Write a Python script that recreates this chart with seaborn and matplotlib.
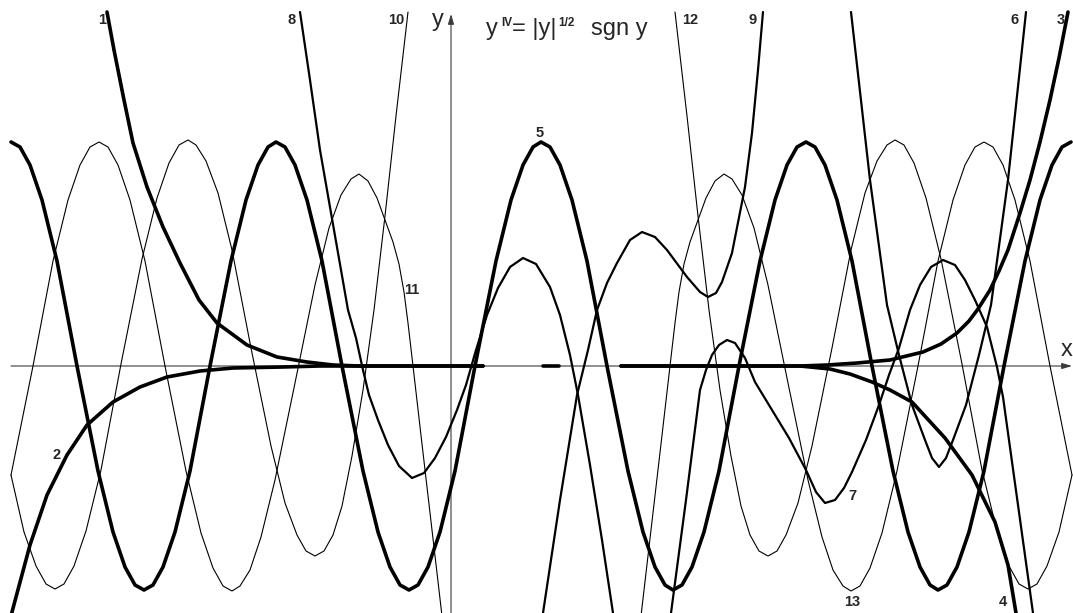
import matplotlib
matplotlib.use("Agg")
import matplotlib.pyplot as plt
import seaborn as sns

# one unit = one pixel of the reference, origin where the axes cross

# thick curves 1-5
c1_x = [-344, -337, -327, -318, -304, -288, -271, -252, -234, -204, -174, -144, -118, -91, 32]
c1_y = [354, 316, 266, 223, 179, 139, 103, 66, 43, 21, 9, 4, 1, 0, 0]

c2_x = [-441, -439, -421, -404, -384, -364, -338, -311, -284, -251, -218, -168, -131, 32]
c2_y = [-254, -246, -179, -129, -89, -59, -36, -21, -11, -5, -2, -1, 0, 0]

c3_x = [170, 349, 376, 406, 439, 472, 490, 506, 518, 527, 539, 548, 557, 569, 579, 589, 599, 608, 617]
c3_y = [0, 0, 1, 3, 6, 14, 22, 33, 45, 57, 76, 95, 116, 153, 186, 224, 266, 308, 354]

c4_x = [170, 349, 379, 399, 421, 439, 461, 494, 521, 544, 557, 565, 567]
c4_y = [0, 0, -3, -8, -16, -24, -36, -72, -109, -156, -199, -247, -264]

c5_x = [-440, -431, -421, -409, -394, -374, -353, -338, -326, -316,
        -307, -298, -288, -276, -261, -241, -220, -205, -193, -183,
        -175, -166, -156, -144, -129, -109, -88, -73, -61, -51,
        -42, -33, -23, -11, 4, 24, 45, 60, 72, 82,
        90, 99, 109, 121, 136, 156, 177, 192, 204, 214,
        222, 231, 241, 253, 268, 288, 309, 324, 336, 346,
        355, 364, 374, 386, 401, 421, 442, 457, 469, 479,
        487, 496, 506, 518, 533, 553, 574, 589, 601, 611, 620]
c5_y = [224, 219, 201, 166, 105, 0, -105, -166, -201, -219,
        -224, -219, -201, -166, -105, 0, 105, 166, 201, 219,
        224, 219, 201, 166, 105, 0, -105, -166, -201, -219,
        -224, -219, -201, -166, -105, 0, 105, 166, 201, 219,
        224, 219, 201, 166, 105, 0, -105, -166, -201, -219,
        -224, -219, -201, -166, -105, 0, 105, 166, 201, 219,
        224, 219, 201, 166, 105, 0, -105, -166, -201, -219,
        -224, -219, -201, -166, -105, 0, 105, 166, 201, 219, 224]

# short thick piece lying on the x axis
z_x = [92, 108]
z_y = [0, 0]

# medium curves 6-9
c6_x = [400, 419, 436, 448, 461, 474, 481, 488, 495, 502, 515, 528, 540, 557, 575]
c6_y = [354, 186, 61, 11, -39, -74, -92, -101, -92, -74, -39, 11, 61, 186, 354]

c7_x = [217, 220, 235, 249, 255, 261, 268, 276, 284, 294, 304, 321, 338, 355, 365, 374, 384, 393,
        401, 415, 428, 438, 448, 459, 469, 480, 492, 504, 514, 524, 536, 546, 552, 567, 582, 585]
c7_y = [-274, -247, -134, -24, -4, 11, 21, 26, 23, 8, -16, -44, -72, -104, -126, -137, -134, -122,
        -106, -74, -39, -9, 18, 56, 81, 99, 106, 101, 86, 66, 39, -1, -31, -139, -247, -274]

c8_x = [-151, -141, -131, -117, -103, -95, -88, -82, -73, -63, -52, -39, -27, -16, -5, 6,
        15, 25, 36, 47, 59, 72, 85, 99, 109, 119, 127, 139, 151, 162, 165]
c8_y = [354, 286, 216, 136, 56, 28, -4, -29, -54, -79, -100, -112, -107, -92, -71, -44,
        -19, 16, 51, 78, 99, 108, 102, 79, 51, 11, -29, -99, -174, -247, -269]

c9_x = [89, 92, 109, 126, 137, 146, 156, 166, 179, 191, 204, 216, 236, 249, 257, 265, 271, 281,
        294, 301, 307, 312]
c9_y = [-269, -247, -134, -29, 16, 56, 83, 103, 126, 134, 129, 116, 89, 74, 69, 73, 84, 113,
        179, 233, 296, 354]

# thin curves 10-13
c10_x = [-440, -427, -415, -405, -396, -387, -377, -365, -350, -330, -309, -294, -282, -272, -263, -255, -245,
         -233, -219, -200, -180, -166, -154, -145, -136, -127, -118, -109, -99, -88, -77, -66, -55, -43]
c10_y = [-109, -166, -200, -218, -223, -218, -200, -165, -104, 2, 107, 168, 203, 221, 226, 221, 205,
         173, 116, 18, -80, -137, -169, -185, -190, -185, -169, -140, -90, -24, 56, 150, 250, 354]

c11_x = [-440, -418, -398, -383, -371, -361, -352, -343, -333, -321, -306, -286, -265, -250, -238, -228, -219,
         -211, -201, -190, -176, -156, -136, -122, -110, -100, -92, -83, -74, -66, -58, -52, -47, -43, -38,
         -29, -19, -9, -6]
c11_y = [-109, 0, 105, 166, 201, 219, 224, 219, 201, 166, 105, 0, -105, -167, -202, -220, -225,
         -220, -204, -171, -114, -17, 81, 138, 171, 187, 192, 185, 168, 146, 124, 102, 74, 43, 0,
         -78, -164, -250, -276]

c12_x = [621, 608, 596, 586, 577, 568, 558, 546, 531, 511, 490, 475, 463, 453, 444, 436, 426,
         414, 400, 381, 361, 347, 335, 326, 317, 308, 299, 290, 280, 269, 258, 247, 236, 224]
c12_y = [-109, -166, -200, -218, -223, -218, -200, -165, -104, 2, 107, 168, 203, 221, 226, 221, 205,
         173, 116, 18, -80, -137, -169, -185, -190, -185, -169, -140, -90, -24, 56, 150, 250, 354]

c13_x = [621, 599, 579, 564, 552, 542, 533, 524, 514, 502, 487, 467, 446, 431, 419, 409, 400,
         392, 382, 371, 357, 337, 317, 303, 291, 281, 273, 264, 255, 247, 239, 233, 228, 224, 219,
         210, 200, 190, 187]
c13_y = [-109, 0, 105, 166, 201, 219, 224, 219, 201, 166, 105, 0, -105, -167, -202, -220, -225,
         -220, -204, -171, -114, -17, 81, 138, 171, 187, 192, 185, 168, 146, 124, 102, 74, 43, 0,
         -78, -164, -250, -276]

# curve numbers and where they sit
label_text = ["1", "8", "10", "12", "9", "6", "3", "5", "11", "2", "7", "13", "4"]
label_x = [-349, -159, -55, 239, 302, 564, 610, 89, -39, -394, 401, 401, 552]
label_y = [346, 346, 346, 346, 346, 346, 346, 233, 76, -89, -130, -236, -236]

sns.set_style("white")
plt.rcParams["font.family"] = ["Liberation Sans", "DejaVu Sans"]

fig = plt.figure(figsize=(10.73, 6.13), dpi=100)
ax = fig.add_axes([0, 0, 1, 1])
ax.set_xlim(-451, 622)
ax.set_ylim(-247, 366)
ax.axis("off")

axis_col = "#3a3a3a"
ax.annotate("", xy=(621, 0), xytext=(-440, 0),
            arrowprops=dict(arrowstyle="-|>,head_length=0.6,head_width=0.18", color=axis_col,
                            lw=0.8, shrinkA=0, shrinkB=0), zorder=1)
ax.annotate("", xy=(0, 352), xytext=(0, -247),
            arrowprops=dict(arrowstyle="-|>,head_length=0.6,head_width=0.18", color=axis_col,
                            lw=0.8, shrinkA=0, shrinkB=0), zorder=1)

curves = [
    (c1_x, c1_y, 2.6), (c2_x, c2_y, 2.6), (c3_x, c3_y, 2.6), (c4_x, c4_y, 2.6),
    (c5_x, c5_y, 2.6), (z_x, z_y, 2.6),
    (c6_x, c6_y, 1.6), (c7_x, c7_y, 1.6), (c8_x, c8_y, 1.6), (c9_x, c9_y, 1.6),
    (c10_x, c10_y, 0.8), (c11_x, c11_y, 0.8), (c12_x, c12_y, 0.8), (c13_x, c13_y, 0.8),
]
for cx, cy, lw in curves:
    sns.lineplot(x=cx, y=cy, sort=False, estimator=None, color="black",
                 linewidth=lw, ax=ax, zorder=2,
                 solid_joinstyle="round", solid_capstyle="round")

for t, lx, ly in zip(label_text, label_x, label_y):
    ax.text(lx, ly, t, fontsize=10.5, fontweight="bold", ha="center", va="center", zorder=3)

# axis names
ax.text(-13, 346, "y", fontsize=17, ha="center", va="center")
ax.text(616, 16, "x", fontsize=17, ha="center", va="center")

# title  y^IV = |y|^1/2 sgn y
ax.text(35, 331, "y", fontsize=17, ha="left", va="baseline")
ax.text(50, 340, "IV", fontsize=8.5, fontweight="bold", ha="left", va="baseline")
ax.text(61, 331, "= |y|", fontsize=17, ha="left", va="baseline")
ax.text(107, 340, "1/2", fontsize=8.5, fontweight="bold", ha="left", va="baseline")
ax.text(140, 331, "sgn y", fontsize=17, ha="left", va="baseline")

fig.savefig("out.png", dpi=100)
